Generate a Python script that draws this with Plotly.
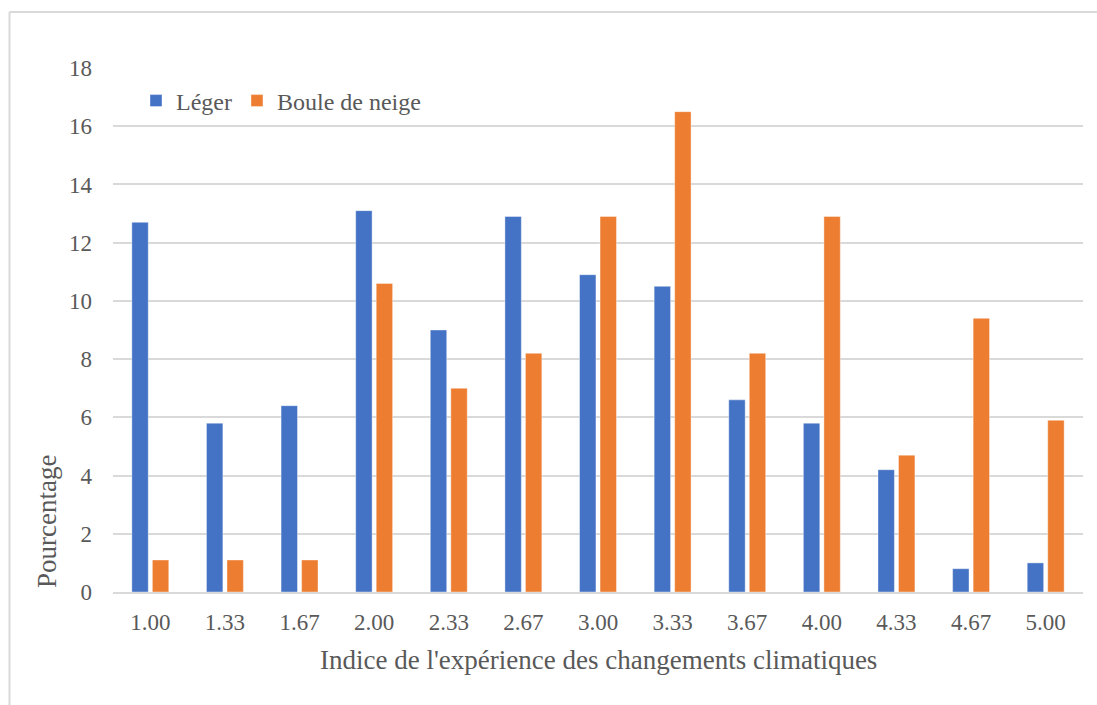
import plotly.graph_objects as go

categories = ["1.00", "1.33", "1.67", "2.00", "2.33", "2.67", "3.00",
              "3.33", "3.67", "4.00", "4.33", "4.67", "5.00"]
leger = [12.7, 5.8, 6.4, 13.1, 9.0, 12.9, 10.9, 10.5, 6.6, 5.8, 4.2, 0.8, 1.0]
boule = [1.1, 1.1, 1.1, 10.6, 7.0, 8.2, 12.9, 16.5, 8.2, 12.9, 4.7, 9.4, 5.9]
y_ticks = [0, 2, 4, 6, 8, 10, 12, 14, 16, 18]

FONT = "Liberation Serif, Times New Roman, serif"
TXT = "#595959"
GRID = "#d9d9d9"

fig = go.Figure()
fig.add_trace(go.Bar(name="Léger", x=categories, y=leger,
                     marker=dict(color="#4472C4", line=dict(color="rgba(255,255,255,0.5)", width=0.8))))
fig.add_trace(go.Bar(name="Boule de neige", x=categories, y=boule,
                     marker=dict(color="#ED7D31", line=dict(color="rgba(255,255,255,0.5)", width=0.8))))

L, R, T, B = 113, 14, 68, 113
W, H = 1097, 705
pw = W - L - R
ph = H - T - B

def px_x(p):
    return (p - L) / pw

def px_y(p):
    return (H - B - p) / ph

fig.update_layout(
    width=W, height=H,
    margin=dict(l=L, r=R, t=T, b=B, pad=0),
    paper_bgcolor="white", plot_bgcolor="white",
    barmode="group", bargap=0.45, bargroupgap=0.2,
    font=dict(family=FONT, color=TXT, size=23),
    showlegend=True,
    legend=dict(orientation="h", x=px_x(136), y=px_y(101), xanchor="left", yanchor="middle",
                font=dict(family=FONT, size=24, color=TXT), bgcolor="rgba(0,0,0,0)",
                itemwidth=30, tracegroupgap=0),
    xaxis=dict(type="category", showgrid=False, showline=True, linecolor=GRID, linewidth=2,
               ticks="", tickfont=dict(family=FONT, size=23, color=TXT), ticklabelstandoff=8,
               zeroline=False),
    yaxis=dict(range=[0, 18], tickvals=y_ticks, showgrid=True, gridcolor=GRID, gridwidth=1.5,
               zeroline=False, showline=False, ticks="",
               tickfont=dict(family=FONT, size=23, color=TXT), ticklabelstandoff=20),
    annotations=[
        dict(text="Pourcentage", xref="paper", yref="paper", x=px_x(47), y=px_y(522),
             xanchor="center", yanchor="middle", textangle=-90, showarrow=False,
             font=dict(family=FONT, size=27, color=TXT)),
        dict(text="Indice de l'expérience des changements climatiques", xref="paper", yref="paper",
             x=0.5, y=px_y(660), xanchor="center", yanchor="middle", showarrow=False,
             font=dict(family=FONT, size=27, color=TXT)),
    ],
    shapes=[
        dict(type="line", xref="paper", yref="paper", x0=px_x(9.5), x1=px_x(9.5),
             y0=px_y(12), y1=px_y(H + 10), line=dict(color=GRID, width=2)),
        dict(type="line", xref="paper", yref="paper", x0=px_x(9.5), x1=px_x(W + 10),
             y0=px_y(12), y1=px_y(12), line=dict(color=GRID, width=2)),
    ],
)

fig.write_html("out.html")
